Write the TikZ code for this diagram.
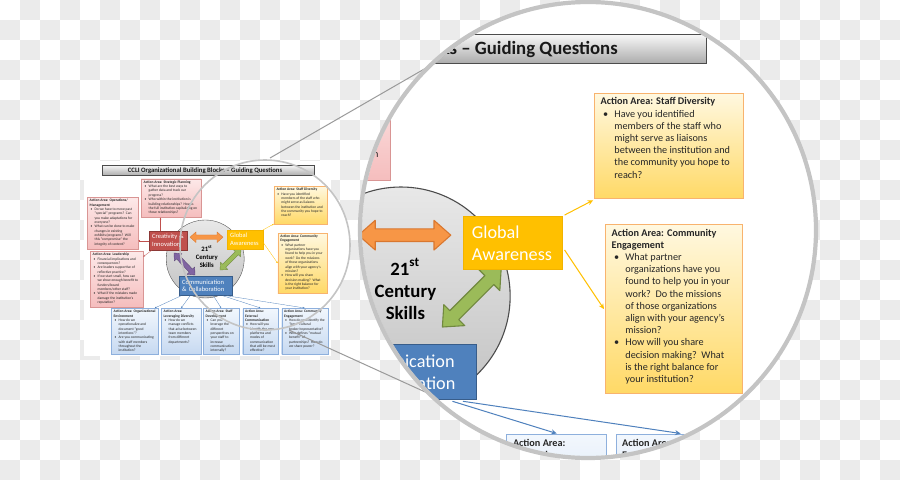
\documentclass[tikz,border=0pt]{standalone}
\usepackage{fontspec}
\setmainfont{Carlito}
\usetikzlibrary{arrows.meta,positioning,calc}

\definecolor{CheckGray}{HTML}{EBEBEB}
\definecolor{PinkTop}{HTML}{FDE9E9}
\definecolor{PinkBot}{HTML}{F5BDBD}
\definecolor{PinkEdge}{HTML}{D99594}
\definecolor{YelTop}{HTML}{FFF8E0}
\definecolor{YelBot}{HTML}{FFD966}
\definecolor{YelEdge}{HTML}{F8B36E}
\definecolor{BluTop}{HTML}{F2F7FD}
\definecolor{BluBot}{HTML}{C6D9F1}
\definecolor{BluEdge}{HTML}{8EB0DD}
\definecolor{RedBox}{HTML}{C0504D}
\definecolor{RedEdge}{HTML}{8C3836}
\definecolor{GoldBox}{HTML}{FFC000}
\definecolor{GoldEdge}{HTML}{F2B300}
\definecolor{BlueBox}{HTML}{4F81BD}
\definecolor{BlueEdge}{HTML}{385D8A}
\definecolor{OrangeArr}{HTML}{F79646}
\definecolor{OrangeEdge}{HTML}{D9772F}
\definecolor{GreenArr}{HTML}{9BBB59}
\definecolor{GreenEdge}{HTML}{71893F}
\definecolor{PurpleArr}{HTML}{8064A2}
\definecolor{PurpleEdge}{HTML}{5C4776}
\definecolor{LensGray}{HTML}{C4C4C4}
\definecolor{LineGray}{HTML}{9A9A9A}
\definecolor{TitleTop}{HTML}{F7F7F7}
\definecolor{TitleBot}{HTML}{ABABAB}

% widths, reset inside the magnified view
\newcommand\boxlw{0.35pt}
\newcommand\connlw{0.3pt}
\newcommand\tiplen{1.8pt}
\newcommand\tipwid{1.6pt}
\newif\ifzoomview

% bullet and hanging continuation
\newcommand\abul{\makebox[1.35em][l]{\hspace{0.25em}\textbullet}}
\newcommand\acont{\hspace*{1.35em}}

% block double arrow: start, angle, length, style
\newcommand\dblarrow[4]{%
  \begin{scope}[shift={#1},rotate=#2]
    \draw[#4] (0,0) -- (6,5.3) -- (6,2.25) -- ({#3-6},2.25) -- ({#3-6},5.3)
      -- (#3,0) -- ({#3-6},-5.3) -- ({#3-6},-2.25) -- (6,-2.25) -- (6,-5.3) -- cycle;
  \end{scope}}

% the handout page, in pixel coordinates
\newcommand\ccliblocks{%
  \fill[white] (84,161) rectangle (331,356);
  % title bar
  \fill[black!60] (102.7,165.8) rectangle (314.6,176.2);
  \node[abox,draw=black!70,top color=TitleTop,bottom color=TitleBot,
        minimum width=211.8,minimum height=10.4,text=black!90,
        font=\fontsize{6.7}{7.5}\selectfont\bfseries] (ttl) at (102,165)
        {CCLI Organizational Building Blocks -- Guiding Questions\hspace*{6pt}};
  % hub
  \node[circle,draw=black!70,line width=\boxlw,top color=black!9,bottom color=black!24,
        minimum size=78,inner sep=0] (hub) at (205.2,259) {};
  \node[font=\fontsize{6.7}{7.9}\selectfont\bfseries,align=center,inner sep=0]
        (hub-t) at (206.8,256.4) {21\textsuperscript{st}\\Century\\Skills};
  \dblarrow{(190,237.2)}{0}{33}{orangearr}
  \dblarrow{(220,270)}{45}{29.7}{greenarr}
  \dblarrow{(174,253)}{-46.3}{30.4}{purplearr}
  % skills
  \node[skill,fill=GoldBox,draw=GoldEdge,minimum width=35.5,text width=29.5]
        (ga) at (227,230) {Global\\Awareness};
  \node[skill,fill=BlueBox,draw=BlueEdge,minimum width=52.6,text width=46.6,minimum height=19.7]
        (cc) at (179,275.7) {Communication\\\& Collaboration};
  % action areas, creativity
  \node[pinkbox,minimum width=60,minimum height=38.6] (sp) at (141,178.6) {};
  \node[boxtxt] (sp-t) at (sp.north west) {\textbf{Action Area: Strategic Planning}\\
    \abul What are the best ways to\\ \acont gather data and track our\\ \acont progress?\\
    \abul Who within the institution is\\ \acont building relationships?\ \ How is\\
    \acont the full institution capitalizing on\\ \acont those relationships?};
  \ifzoomview\else
  \node[skill,fill=RedBox,draw=RedEdge,minimum width=38,text width=32]
        (ci) at (149,231) {Creativity \&\\Innovation};
  \node[pinkbox,minimum width=51,minimum height=52] (ops) at (87,197) {};
  \node[boxtxt] (ops-t) at (ops.north west) {\textbf{Action Area: Operations/}\\ \textbf{Management}\\
    \abul Do we have to move past\\ \acont “special” programs?\ \ Can\\
    \acont you make adaptations for\\ \acont everyone?\\
    \abul What can be done to make\\ \acont changes in existing\\
    \acont exhibits/programs?\ \ Will\\ \acont this “compromise” the\\ \acont integrity of content?};
  \node[pinkbox,minimum width=53,minimum height=55.8] (lead) at (90,251) {};
  \node[boxtxt] (lead-t) at (lead.north west) {\textbf{Action Area: Leadership}\\
    \abul Financial implications and\\ \acont consequences?\\
    \abul Are leaders supportive of\\ \acont reflective practice?\\
    \abul If we start small, how can\\ \acont we show enough benefit to\\
    \acont funders/board\\ \acont members/other staff?\\
    \abul What if the mistakes made\\ \acont damage the institution’s\\ \acont reputation?};
  \fi
  % action areas, global awareness
  \node[yelbox,minimum width=53.2,minimum height=37.6] (sd) at (273.8,186) {};
  \node[boxtxt] (sd-t) at (sd.north west) {\textbf{Action Area: Staff Diversity}\\
    \abul Have you identified\\ \acont members of the staff who\\ \acont might serve as liaisons\\
    \acont between the institution and\\ \acont the community you hope to\\ \acont reach?};
  \node[yelbox,minimum width=48.9,minimum height=60.3] (ce) at (277.7,232.9) {};
  \node[boxtxt] (ce-t) at (ce.north west) {\textbf{Action Area: Community}\\ \textbf{Engagement}\\
    \abul What partner\\ \acont organizations have you\\ \acont found to help you in your\\
    \acont work?\ \ Do the missions\\ \acont of those organizations\\
    \acont align with your agency’s\\ \acont mission?\\
    \abul How will you share\\ \acont decision making?\ \ What\\
    \acont is the right balance for\\ \acont your institution?};
  % action areas, communication
  \ifzoomview\else
  \node[blubox,minimum width=47,minimum height=46] (oe) at (111,308) {};
  \node[boxtxt] (oe-t) at (oe.north west) {\textbf{Action Area: Organizational}\\ \textbf{Environment}\\
    \abul How do we\\ \acont operationalize and\\ \acont document “good\\ \acont intentions”?\\
    \abul Are you communicating\\ \acont with staff members\\ \acont throughout the\\ \acont institution?};
  \node[blubox,minimum width=40,minimum height=46] (ld) at (161,308) {};
  \node[boxtxt] (ld-t) at (ld.north west) {\textbf{Action Area:}\\ \textbf{Leveraging Diversity}\\
    \abul How do we\\ \acont manage conflicts\\ \acont that arise between\\
    \acont team members\\ \acont from different\\ \acont departments?};
  \node[blubox,minimum width=36,minimum height=46] (sdv) at (203,308) {};
  \node[boxtxt] (sdv-t) at (sdv.north west) {\textbf{Action Area: Staff}\\ \textbf{Development}\\
    \abul Can you\\ \acont leverage the\\ \acont different\\ \acont perspectives on\\
    \acont your staff to\\ \acont increase\\ \acont communication\\ \acont internally?};
  \fi
  \node[blubox,minimum width=35.5,minimum height=46] (ec) at (242.5,308) {};
  \node[boxtxt] (ec-t) at (ec.north west) {\textbf{Action Area:}\\ \textbf{External}\\ \textbf{Communication}\\
    \abul How will you\\ \acont identify the new\\ \acont platforms and\\ \acont modes of\\
    \acont communication\\ \acont that will be most\\ \acont effective?};
  \node[blubox,minimum width=46,minimum height=46] (cme) at (281.5,308) {};
  \node[boxtxt] (cme-t) at (cme.north west) {\textbf{Action Area: Community}\\ \textbf{Engagement}\\
    \abul How do you identify the\\ \acont “best” cultural\\ \acont broker/representative?\\
    \abul Who defines “mutual\\ \acont benefit” of\\ \acont partnerships?\ \ How do\\ \acont we share power?};
  % connectors
  \ifzoomview\else
  \coordinate (ci-top) at ($(ci.north west)!0.3!(ci.north east)$);
  \draw[rconn] (ci-top) -- (ci-top |- sp.south);
  \draw[rconn] (ci.west) -- (ci.west -| ops.east);
  \draw[rconn] ($(ci.south west)!0.07!(ci.south east)$) -- ($(lead.north east)!0.1!(lead.south east)$);
  \draw[bconn] ($(cc.south west)!0.04!(cc.south east)$) -- ($(oe.north)!0.85!(oe.north east)$);
  \draw[bconn] ($(cc.south west)!0.21!(cc.south east)$) -- (ld.north);
  \draw[bconn] ($(cc.south west)!0.65!(cc.south east)$) -- (sdv.north);
  \fi
  \draw[gconn] (ga.north east) -- (sd.south west);
  \draw[gconn] ($(ga.north east)!0.62!(ga.south east)$) -- (ce.west);
  \draw[bconn] ($(cc.south west)!0.83!(cc.south east)$) -- (ec.north);
  \draw[bconn] ($(cc.south west)!0.90!(cc.south east)$) -- (cme.north);
}

\begin{document}
\begin{tikzpicture}[x=1pt,y=-1pt,
    abox/.style={rectangle,inner sep=0pt,anchor=north west,line width=\boxlw},
    pinkbox/.style={abox,draw=PinkEdge,top color=PinkTop,bottom color=PinkBot},
    yelbox/.style={abox,draw=YelEdge,top color=YelTop,bottom color=YelBot},
    blubox/.style={abox,draw=BluEdge,top color=BluTop,bottom color=BluBot},
    boxtxt/.style={anchor=north west,align=left,inner xsep=2.5pt,inner ysep=1.9pt,
                   text=black!85,font=\fontsize{3.65}{4.35}\selectfont},
    skill/.style={rectangle,anchor=north west,inner xsep=3pt,inner ysep=0pt,
                  minimum height=19,align=left,text=white,line width=\boxlw,
                  font=\fontsize{6.5}{7.9}\selectfont},
    orangearr/.style={fill=OrangeArr,draw=OrangeEdge,line width=\boxlw,line join=round},
    greenarr/.style={fill=GreenArr,draw=GreenEdge,line width=\boxlw,line join=round},
    purplearr/.style={fill=PurpleArr,draw=PurpleEdge,line width=\boxlw,line join=round},
    rconn/.style={draw=RedBox,line width=\connlw,-{Stealth[length=\tiplen,width=\tipwid]}},
    gconn/.style={draw=GoldBox,line width=\connlw,-{Stealth[length=\tiplen,width=\tipwid]}},
    bconn/.style={draw=BlueBox,line width=\connlw,-{Stealth[length=\tiplen,width=\tipwid]}},
    lensline/.style={draw=LineGray,line width=1pt}]

  \useasboundingbox (0,0) rectangle (900,480);

  % transparency checkerboard
  \begin{scope}
    \clip (0,0) rectangle (900,480);
    \fill[white] (0,0) rectangle (900,480);
    \foreach \r in {0,...,23}{
      \pgfmathtruncatemacro\off{mod(\r+1,2)}
      \foreach \c in {0,2,...,44}
        \fill[CheckGray] ({(\c+\off)*20},\r*20) rectangle ++(20,20);
    }
  \end{scope}

  % small lens over the handout
  \coordinate (lensS) at (265,245);
  \fill[white] (lensS) circle (85);
  \ccliblocks
  \draw[LensGray,line width=1.6pt] (lensS) circle (85);

  % lens rays
  \coordinate (ray-a1) at (270,158);
  \coordinate (ray-a2) at (452,53);
  \coordinate (ray-b1) at (289,330);
  \coordinate (ray-b2) at (445,401);
  \draw[lensline] (ray-a1) -- (ray-a2);
  \draw[lensline] (ray-b1) -- (ray-b2);

  % magnified view
  \coordinate (lensB) at (588,230);
  \fill[white] (lensB) circle (228);
  \begin{scope}
    \clip (lensB) circle (226);
    \begin{scope}[shift={(-173.6,-429)},scale=2.8,transform shape]
      \renewcommand\boxlw{1.1pt}
      \renewcommand\connlw{1pt}
      \renewcommand\tiplen{5.5pt}
      \renewcommand\tipwid{5pt}
      \zoomviewtrue
      \ccliblocks
    \end{scope}
  \end{scope}
  \draw[LensGray,line width=4.2pt] (lensB) circle (228);
\end{tikzpicture}
\end{document}
